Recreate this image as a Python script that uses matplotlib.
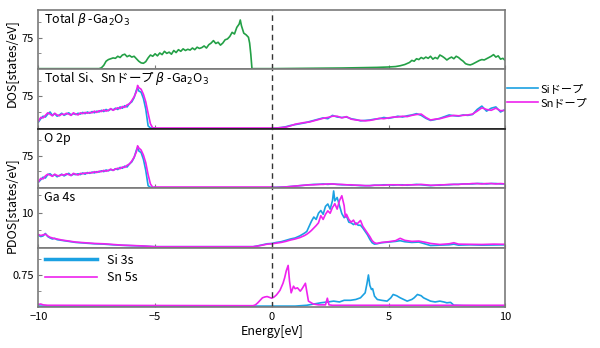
import numpy as np
import matplotlib
matplotlib.use('Agg')
import matplotlib.pyplot as plt
from matplotlib.lines import Line2D

plt.rcParams['font.family'] = ['Noto Sans CJK JP', 'DejaVu Sans']
plt.rcParams['mathtext.fontset'] = 'dejavusans'
plt.rcParams['axes.unicode_minus'] = True

# total DOS, undoped
e_tot = [-10, -7.4, -7.3, -7.2, -7.1, -7.0, -6.9, -6.8, -6.7, -6.6, -6.5, -6.4, -6.3, -6.2, -6.1, -6.0,
         -5.9, -5.8, -5.7, -5.6, -5.5, -5.4, -5.3, -5.2, -5.1, -5.0, -4.9, -4.8, -4.7, -4.6, -4.5, -4.4,
         -4.3, -4.2, -4.1, -4.0, -3.9, -3.8, -3.7, -3.6, -3.5, -3.4, -3.3, -3.2, -3.1, -3.0, -2.9, -2.8,
         -2.7, -2.6, -2.5, -2.4, -2.3, -2.2, -2.1, -2.0, -1.9, -1.8, -1.7, -1.6, -1.5, -1.4, -1.35, -1.3,
         -1.2, -1.1, -1.0, -0.95, -0.9, -0.85,
         0, 1, 2, 3, 4, 4.5, 5, 5.3, 5.5, 5.7, 5.9, 6.0, 6.1, 6.2, 6.3, 6.4, 6.5, 6.6, 6.7, 6.8, 6.9, 7.0,
         7.1, 7.2, 7.3, 7.4, 7.5, 7.6, 7.7, 7.8, 7.9, 8.0, 8.1, 8.2, 8.3, 8.4, 8.5, 8.6, 8.7, 8.8, 8.9, 9.0,
         9.1, 9.2, 9.3, 9.4, 9.5, 9.6, 9.7, 9.8, 9.9, 10]
dos_tot = [0, 0, 2, 8, 18, 22, 24, 26, 25, 30, 27, 33, 35, 29, 32, 28,
           30, 24, 18, 14, 13, 17, 26, 33, 30, 36, 31, 38, 34, 42, 37, 40,
           35, 44, 39, 46, 42, 48, 44, 47, 45, 50, 46, 52, 49, 51, 55, 50,
           58, 62, 68, 61, 64, 57, 62, 70, 72, 78, 88, 84, 100, 108, 118, 104,
           86, 82, 76, 62, 35, 0,
           0, 0.5, 1, 1.5, 2.5, 3, 4, 5, 7, 10, 15, 20, 18, 24, 22, 27, 24, 28, 25, 30, 23, 27,
           24, 33, 30, 26, 21, 25, 28, 24, 30, 27, 22, 18, 12, 10, 9, 11, 14, 17, 20, 22,
           21, 24, 27, 30, 34, 28, 31, 23, 25, 20]

# valence band grid shared by the doped total and O 2p curves
e_vb = [-10.0, -9.9, -9.8, -9.7, -9.6, -9.5, -9.4, -9.3, -9.2, -9.1, -9.0, -8.9, -8.8, -8.7, -8.6, -8.5,
        -8.4, -8.3, -8.2, -8.1, -8.0, -7.9, -7.8, -7.7, -7.6, -7.5, -7.4, -7.3, -7.2, -7.1, -7.0, -6.9,
        -6.8, -6.7, -6.6, -6.5, -6.4, -6.3, -6.2, -6.1, -6.0, -5.9, -5.8, -5.75, -5.7, -5.6, -5.5, -5.4,
        -5.3, -5.2, -5.1, -5.0]
# conduction band grid
e_cb = [0.0, 0.2, 0.4, 0.6, 0.8, 1.0, 1.2, 1.4, 1.6, 1.8, 2.0, 2.2, 2.4, 2.6, 2.8, 3.0, 3.2, 3.4, 3.6,
        3.8, 4.0, 4.2, 4.4, 4.6, 4.8, 5.0, 5.2, 5.4, 5.6, 5.8, 6.0, 6.2, 6.4, 6.6, 6.8, 7.0, 7.2, 7.4,
        7.6, 7.8, 8.0, 8.2, 8.4, 8.6, 8.8, 9.0, 9.2, 9.4, 9.6, 9.8, 10.0]

si_vb = [14, 22, 28, 26, 33, 38, 30, 34, 28, 31, 35, 30, 33, 36, 31, 34,
         32, 35, 33, 37, 34, 38, 35, 39, 36, 40, 38, 42, 39, 44, 41, 45,
         43, 47, 44, 50, 47, 53, 50, 58, 62, 72, 90, 95, 88, 85, 70, 45,
         5, 0, 0, 0]
sn_vb = [16, 25, 24, 30, 36, 33, 29, 35, 31, 29, 33, 32, 35, 33, 30, 36,
         33, 31, 36, 34, 37, 35, 37, 36, 40, 37, 41, 39, 43, 40, 42, 46,
         42, 45, 48, 46, 51, 49, 55, 57, 65, 74, 86, 101, 96, 92, 80, 62,
         35, 10, 0, 0]
si_cb = [0, 0, 1, 3, 6, 8, 10, 12, 15, 18, 21, 24, 22, 30, 26, 25, 26, 22, 20,
         17, 18, 19, 21, 22, 25, 23, 25, 28, 26, 29, 31, 34, 30, 23, 18, 20, 23, 27,
         31, 29, 28, 31, 30, 32, 44, 52, 40, 47, 50, 38, 44]
sn_cb = [0, 0, 1, 2, 5, 9, 11, 13, 14, 17, 20, 23, 25, 28, 28, 24, 27, 21, 19,
         18, 17, 18, 20, 23, 22, 24, 26, 26, 28, 27, 30, 32, 33, 25, 19, 21, 22, 25,
         28, 30, 29, 30, 31, 33, 40, 48, 44, 42, 47, 41, 42]

# O 2p
o_si_vb = [12, 18, 24, 22, 30, 32, 27, 30, 25, 28, 31, 27, 30, 33, 28, 31,
           30, 32, 30, 34, 31, 35, 33, 36, 34, 37, 36, 39, 37, 41, 39, 42,
           40, 44, 42, 47, 45, 50, 48, 55, 60, 70, 88, 94, 86, 82, 66, 40,
           4, 0, 0, 0]
o_sn_vb = [13, 21, 20, 27, 31, 29, 26, 31, 28, 27, 30, 29, 32, 30, 28, 33,
           31, 29, 33, 32, 34, 33, 35, 34, 37, 35, 38, 37, 40, 38, 40, 43,
           40, 43, 45, 44, 48, 47, 52, 55, 62, 71, 84, 98, 93, 88, 76, 58,
           30, 8, 0, 0]
o_si_cb = [0, 0, 0.5, 1, 2, 3, 4, 5, 6, 7, 7, 8, 7, 8, 7, 6, 6, 5, 5,
           4, 4, 4, 5, 5, 6, 6, 5, 6, 6, 5, 6, 7, 6, 5, 4, 5, 5, 6,
           6, 7, 7, 8, 8, 8, 9, 9, 8, 9, 9, 8, 8]
o_sn_cb = [0, 0, 0.5, 1, 2, 3, 4, 5, 6, 6, 7, 7, 8, 8, 7, 7, 6, 6, 5,
           5, 4, 4, 5, 5, 5, 6, 6, 6, 5, 6, 6, 6, 7, 6, 5, 5, 6, 6,
           7, 7, 7, 8, 8, 9, 9, 8, 9, 9, 8, 9, 8]

# Ga 4s
e_ga = [-10.0, -9.9, -9.8, -9.7, -9.6, -9.5, -9.4, -9.3, -9.2, -9.0, -8.8, -8.6, -8.4, -8.2, -8.0, -7.6,
        -7.2, -6.8, -6.4, -6.0, -5.6, -5.2, -5.0, -0.8, -0.6, -0.4, -0.2, 0.0, 0.2, 0.4, 0.6, 0.8, 1.0,
        1.2, 1.4, 1.5, 1.6, 1.7, 1.8, 1.9, 2.0, 2.1, 2.2, 2.3, 2.4, 2.5, 2.6, 2.65, 2.7, 2.8, 2.9, 3.0,
        3.1, 3.15, 3.2, 3.3, 3.4, 3.5, 3.6, 3.7, 3.8, 3.9, 4.0, 4.1, 4.2, 4.3, 4.4, 4.5, 4.7, 5.0, 5.3,
        5.5, 5.7, 6.0, 6.3, 6.6, 6.8, 7.2, 7.6, 7.8, 8.0, 8.5, 9.0, 9.5, 10.0]
ga_si = [3.4, 3.0, 3.2, 3.9, 3.0, 2.6, 2.3, 2.5, 2.1, 1.9, 1.7, 1.5, 1.3, 1.2, 1.1, 0.9,
         0.8, 0.6, 0.45, 0.35, 0.25, 0.1, 0.05, 0.05, 0.3, 0.6, 0.9, 1.0, 1.3, 1.5, 1.9, 2.3, 2.6,
         3.2, 4.0, 4.5, 6.0, 7.5, 8.7, 8.0, 9.8, 10.6, 9.5, 11.8, 12.5, 11.0, 13.5, 16.3, 13.4, 14.4, 12.0, 9.7,
         8.5, 8.8, 9.0, 7.2, 7.0, 6.5, 7.0, 6.3, 6.3, 5.5, 4.5, 3.5, 2.2, 1.2, 0.8, 0.9, 1.2, 1.4, 1.6,
         1.8, 1.5, 1.3, 1.4, 0.8, 0.4, 0.5, 0.6, 0.8, 0.5, 0.6, 0.5, 0.55, 0.6]
ga_sn = [3.6, 3.3, 3.5, 3.7, 3.2, 2.8, 2.6, 2.4, 2.3, 2.0, 1.8, 1.6, 1.4, 1.3, 1.2, 1.0,
         0.9, 0.7, 0.5, 0.4, 0.3, 0.15, 0.05, 0.05, 0.25, 0.5, 0.8, 0.9, 1.1, 1.3, 1.6, 2.0, 2.3,
         2.7, 3.3, 3.7, 4.2, 4.8, 5.5, 6.2, 7.0, 9.1, 8.0, 9.5, 10.5, 9.8, 11.5, 12.0, 12.6, 11.0, 13.5, 14.9,
         12.0, 8.7, 9.5, 8.0, 7.2, 7.8, 6.5, 7.0, 7.7, 6.0, 5.0, 4.0, 3.0, 1.8, 1.2, 1.0, 1.3, 1.5, 1.8,
         2.5, 1.9, 1.6, 1.7, 1.3, 1.0, 0.7, 0.9, 1.2, 0.8, 0.75, 0.7, 0.8, 0.75]

# Si 3s / Sn 5s
e_sn5s = [-10.0, -9.9, -9.8, -9.6, -0.8, -0.7, -0.6, -0.5, -0.4, -0.3, -0.2, -0.1, 0.0, 0.1, 0.2, 0.27,
          0.35, 0.48, 0.55, 0.62, 0.7, 0.76, 0.83, 0.93, 1.0, 1.1, 1.22, 1.3, 1.44, 1.5, 1.57, 1.78,
          2.0, 2.3, 2.38, 2.45, 2.6, 3.0, 10.0]
sn5s = [0.04, 0.05, 0.03, 0.02, 0.01, 0.03, 0.08, 0.14, 0.2, 0.22, 0.23, 0.21, 0.19, 0.22, 0.27, 0.32,
        0.38, 0.55, 0.68, 0.85, 0.98, 0.6, 0.32, 0.48, 0.42, 0.44, 0.36, 0.42, 0.55, 0.35, 0.12, 0.05,
        0.03, 0.03, 0.19, 0.03, 0.02, 0.02, 0.02]
e_si3s = [-10.0, 1.0, 1.5, 1.8, 2.1, 2.4, 2.65, 2.9, 3.1, 3.37, 3.6, 3.8, 4.0, 4.08, 4.14, 4.2, 4.27,
          4.32, 4.4, 4.52, 4.7, 4.94, 5.1, 5.2, 5.35, 5.5, 5.65, 5.8, 6.0, 6.1, 6.24, 6.4, 6.5, 6.65,
          6.8, 7.0, 7.2, 7.37, 7.5, 7.66, 7.8, 8.2, 10.0]
si3s = [0.0, 0.0, 0.02, 0.05, 0.08, 0.1, 0.12, 0.1, 0.14, 0.14, 0.16, 0.2, 0.32, 0.55, 0.75, 0.5, 0.4,
        0.42, 0.24, 0.16, 0.14, 0.12, 0.2, 0.28, 0.25, 0.2, 0.16, 0.12, 0.16, 0.2, 0.28, 0.25, 0.2, 0.16,
        0.12, 0.1, 0.12, 0.1, 0.08, 0.09, 0.02, 0.01, 0.0]

green = '#23a046'
blue = '#1ba1e2'
mag = '#ee22ee'
spine_col = '#7a7a7a'

fig, axs = plt.subplots(5, 1, figsize=(6, 3.48), dpi=100, sharex=True)
fig.subplots_adjust(left=0.064, right=0.842, top=0.971, bottom=0.118, hspace=0)

ax = axs[0]
ax.plot(e_tot, dos_tot, color=green, lw=1.2)
ax.set_ylim(-2, 142)
ax.set_yticks([75])
ax.set_yticks([37.5, 112.5], minor=True)
ax.text(0.012, 0.84, r'Total $\beta$ -Ga$_2$O$_3$', transform=ax.transAxes, fontsize=9, va='center')

ax = axs[1]
ax.plot(e_vb, si_vb, color=blue, lw=1.2)
ax.plot(e_vb, sn_vb, color=mag, lw=1.2)
ax.plot(e_cb, si_cb, color=blue, lw=1.2)
ax.plot(e_cb, sn_cb, color=mag, lw=1.2)
ax.plot([-5.0, 0.0], [0, 0], color=mag, lw=1.2)
ax.set_ylim(-2, 139)
ax.set_yticks([75])
ax.set_yticks([37.5, 112.5], minor=True)
ax.text(0.012, 0.84, 'Total Si、Snドープ ' + r'$\beta$' + ' -Ga$_2$O$_3$', transform=ax.transAxes,
        fontsize=9, va='center')

ax = axs[2]
ax.plot(e_vb, o_si_vb, color=blue, lw=1.2)
ax.plot(e_vb, o_sn_vb, color=mag, lw=1.2)
ax.plot(e_cb, o_si_cb, color=blue, lw=1.2)
ax.plot(e_cb, o_sn_cb, color=mag, lw=1.2)
ax.plot([-5.0, 0.0], [0, 0], color=mag, lw=1.2)
ax.set_ylim(-2, 138)
ax.set_yticks([75])
ax.set_yticks([37.5, 112.5], minor=True)
ax.text(0.012, 0.84, 'O 2p', transform=ax.transAxes, fontsize=9, va='center')

ax = axs[3]
ax.plot(e_ga, ga_si, color=blue, lw=1.2)
ax.plot(e_ga, ga_sn, color=mag, lw=1.2)
ax.set_ylim(-0.2, 17.1)
ax.set_yticks([10])
ax.set_yticks([5, 15], minor=True)
ax.text(0.012, 0.84, 'Ga 4s', transform=ax.transAxes, fontsize=9, va='center')

ax = axs[4]
ax.plot(e_si3s, si3s, color=blue, lw=1.2)
ax.plot(e_sn5s, sn5s, color=mag, lw=1.2)
ax.set_ylim(-0.02, 1.41)
ax.set_yticks([0.75])
ax.set_yticks([0.375, 1.125], minor=True)
ax.legend([Line2D([], [], color=blue, lw=2.5), Line2D([], [], color=mag, lw=1.2)],
          ['Si 3s', 'Sn 5s'], loc='upper left', frameon=False, fontsize=9,
          handlelength=4.2, borderaxespad=0.1, labelspacing=0.35)

for ax in axs:
    ax.axvline(0, color='#333333', lw=1, ls=(0, (4, 3)))
    ax.set_xlim(-10, 10)
    ax.tick_params(direction='in', which='both', labelsize=8, length=3, color=spine_col)
    ax.tick_params(which='minor', length=2)
    for s in ax.spines.values():
        s.set_color(spine_col)
        s.set_linewidth(1.2)
axs[1].spines['bottom'].set_color('#222222')
axs[2].spines['top'].set_color('#222222')

axs[4].set_xticks([-10, -5, 0, 5, 10])
axs[4].set_xlabel('Energy[eV]', fontsize=9, labelpad=2)

fig.text(0.018, 0.82, 'DOS[states/eV]', rotation=90, fontsize=9, ha='center', va='center')
fig.text(0.018, 0.41, 'PDOS[states/eV]', rotation=90, fontsize=9, ha='center', va='center')

# doping legend to the right of the second panel
fig.legend([Line2D([], [], color=blue, lw=1.2), Line2D([], [], color=mag, lw=1.2)],
           ['Siドープ', 'Snドープ'], loc='upper left', bbox_to_anchor=(0.835, 0.775),
           frameon=False, fontsize=8, handlelength=2.8, handletextpad=0.25, labelspacing=0.35,
           borderaxespad=0.1)

fig.savefig('out.png', dpi=100)
